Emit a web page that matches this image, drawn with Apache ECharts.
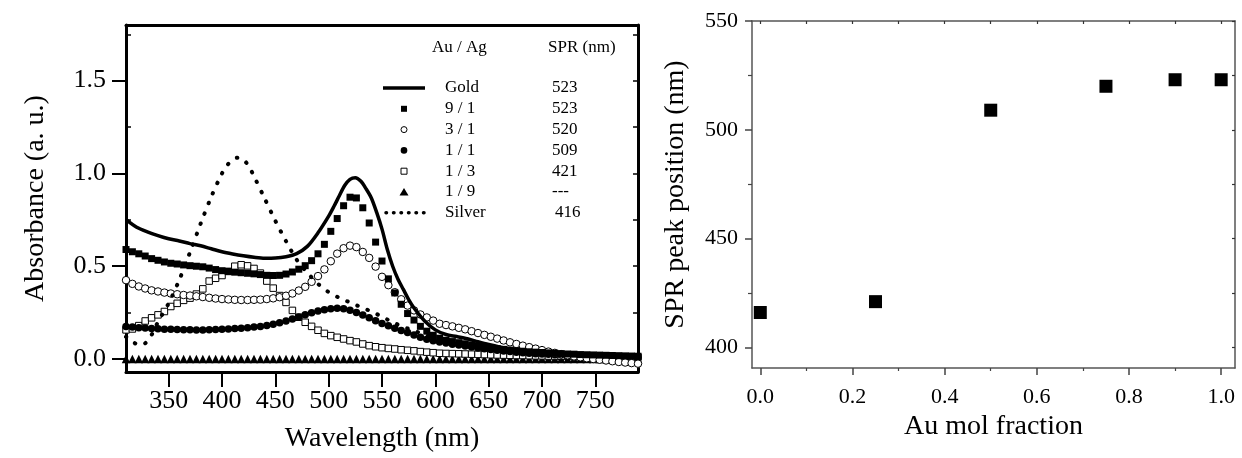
<!DOCTYPE html>
<html>
<head>
<meta charset="utf-8">
<script src="https://cdn.jsdelivr.net/npm/echarts@6.0.0/dist/echarts.min.js"></script>
<style>
  html, body { margin: 0; padding: 0; background: #fff; }
  #chart { width: 1242px; height: 458px; }
</style>
</head>
<body>
<div id="chart"></div>
<script>
// ---- UV-vis spectra of Au/Ag nanoparticles (left panel) ----
// marker series share one wavelength grid (nm)
const gridNm = [
  310, 316, 322, 328, 334, 340, 346, 352, 358, 364,
  370, 376, 382, 388, 394, 400, 406, 412, 418, 424,
  430, 436, 442, 448, 454, 460, 466, 472, 478, 484,
  490, 496, 502, 508, 514, 520, 526, 532, 538, 544,
  550, 556, 562, 568, 574, 580, 586, 592, 598, 604,
  610, 616, 622, 628, 634, 640, 646, 652, 658, 664,
  670, 676, 682, 688, 694, 700, 706, 712, 718, 724,
  730, 736, 742, 748, 754, 760, 766, 772, 778, 784,
  790
];
const abs9to1 = [
  0.590, 0.578, 0.567, 0.555, 0.541, 0.532, 0.523, 0.516, 0.512, 0.507,
  0.503, 0.500, 0.497, 0.490, 0.482, 0.476, 0.472, 0.468, 0.465, 0.462,
  0.459, 0.455, 0.451, 0.450, 0.451, 0.458, 0.469, 0.484, 0.503, 0.530,
  0.567, 0.618, 0.688, 0.757, 0.826, 0.872, 0.868, 0.815, 0.733, 0.630,
  0.528, 0.432, 0.356, 0.295, 0.245, 0.210, 0.176, 0.150, 0.128, 0.112,
  0.101, 0.094, 0.088, 0.082, 0.076, 0.071, 0.065, 0.060, 0.056, 0.052,
  0.048, 0.045, 0.042, 0.039, 0.037, 0.035, 0.033, 0.031, 0.029, 0.027,
  0.026, 0.024, 0.023, 0.022, 0.021, 0.020, 0.019, 0.018, 0.017, 0.016,
  0.015
];
const abs3to1 = [
  0.425, 0.405, 0.391, 0.380, 0.370, 0.364, 0.358, 0.353, 0.349, 0.345,
  0.342, 0.338, 0.334, 0.330, 0.326, 0.323, 0.321, 0.319, 0.318, 0.318,
  0.319, 0.320, 0.323, 0.327, 0.333, 0.341, 0.353, 0.369, 0.389, 0.416,
  0.447, 0.483, 0.527, 0.568, 0.597, 0.611, 0.603, 0.577, 0.545, 0.498,
  0.443, 0.398, 0.360, 0.322, 0.288, 0.262, 0.240, 0.224, 0.207, 0.190,
  0.183, 0.176, 0.168, 0.160, 0.150, 0.140, 0.130, 0.120, 0.110, 0.100,
  0.090, 0.081, 0.072, 0.064, 0.056, 0.048, 0.040, 0.033, 0.026, 0.020,
  0.014, 0.009, 0.004, 0.000, -0.004, -0.008, -0.012, -0.016, -0.019, -0.022,
  -0.025
];
const abs1to1 = [
  0.175, 0.172, 0.169, 0.167, 0.165, 0.163, 0.161, 0.160, 0.159, 0.158,
  0.158, 0.157, 0.157, 0.158, 0.159, 0.160, 0.162, 0.164, 0.166, 0.169,
  0.172, 0.175, 0.181, 0.188, 0.196, 0.205, 0.215, 0.226, 0.238, 0.249,
  0.259, 0.266, 0.271, 0.274, 0.271, 0.263, 0.250, 0.237, 0.222, 0.206,
  0.192, 0.179, 0.166, 0.154, 0.143, 0.130, 0.117, 0.107, 0.099, 0.092,
  0.086, 0.080, 0.075, 0.070, 0.065, 0.060, 0.055, 0.051, 0.047, 0.043,
  0.040, 0.037, 0.034, 0.031, 0.029, 0.027, 0.025, 0.023, 0.022, 0.020,
  0.019, 0.018, 0.017, 0.016, 0.015, 0.014, 0.013, 0.012, 0.011, 0.011,
  0.010
];
const abs1to3 = [
  0.157, 0.162, 0.180, 0.205, 0.222, 0.238, 0.256, 0.283, 0.300, 0.316,
  0.328, 0.350, 0.378, 0.420, 0.435, 0.450, 0.472, 0.500, 0.508, 0.502,
  0.488, 0.463, 0.420, 0.382, 0.342, 0.305, 0.262, 0.225, 0.198, 0.176,
  0.155, 0.138, 0.126, 0.117, 0.108, 0.099, 0.092, 0.081, 0.072, 0.066,
  0.061, 0.057, 0.054, 0.050, 0.047, 0.044, 0.040, 0.037, 0.034, 0.031,
  0.030, 0.029, 0.028, 0.027, 0.026, 0.025, 0.024, 0.023, 0.022, 0.021,
  0.020, 0.019, 0.019, 0.018, 0.017, 0.017, 0.016, 0.016, 0.015, 0.015,
  0.014, 0.014, 0.013, 0.013, 0.012, 0.012, 0.012, 0.011, 0.011, 0.011,
  0.010
];
const abs1to9 = [
  0, 0, 0, 0, 0, 0, 0, 0, 0, 0,
  0, 0, 0, 0, 0, 0, 0, 0, 0, 0,
  0, 0, 0, 0, 0, 0, 0, 0, 0, 0,
  0, 0, 0, 0, 0, 0, 0, 0, 0, 0,
  0, 0, 0, 0, 0, 0, 0, 0, 0, 0,
  0, 0, 0, 0, 0, 0, 0, 0, 0, 0,
  0, 0, 0, 0, 0, 0, 0, 0, 0, 0,
  0, 0, 0, 0, 0, 0, 0, 0, 0, 0,
  0
];

// pure gold (solid line)
const goldNm = [
  310, 320, 330, 340, 350, 360, 370, 380, 390, 400,
  410, 420, 430, 440, 450, 460, 470, 480, 490, 500,
  505, 510, 515, 520, 525, 530, 535, 540, 545, 550,
  555, 560, 565, 570, 575, 580, 590, 600, 610, 620,
  630, 640, 650, 660, 670, 680, 690, 700, 720, 740,
  760, 790
];
const goldAbs = [
  0.751, 0.710, 0.685, 0.665, 0.648, 0.636, 0.622, 0.610, 0.594, 0.578,
  0.566, 0.556, 0.548, 0.543, 0.544, 0.551, 0.568, 0.607, 0.680, 0.770,
  0.823, 0.880, 0.935, 0.968, 0.977, 0.959, 0.918, 0.868, 0.790, 0.700,
  0.590, 0.500, 0.430, 0.375, 0.320, 0.275, 0.205, 0.157, 0.132, 0.121,
  0.109, 0.093, 0.078, 0.065, 0.055, 0.047, 0.040, 0.035, 0.027, 0.020,
  0.015, 0.010
];

// pure silver (dotted line)
const silverNm = [
  310, 316, 322, 328, 334, 340, 350, 360, 370, 380,
  390, 400, 405, 410, 415, 420, 425, 430, 440, 450,
  460, 470, 480, 490, 500, 510, 520, 530, 540, 550,
  560, 570, 580, 590, 600, 620, 640, 660, 680, 700,
  730, 760, 790
];
const silverAbs = [
  0.120, 0.094, 0.076, 0.085, 0.130, 0.200, 0.300, 0.427, 0.575, 0.730,
  0.875, 1.000, 1.045, 1.075, 1.085, 1.075, 1.040, 0.985, 0.865, 0.745,
  0.635, 0.535, 0.465, 0.405, 0.360, 0.330, 0.305, 0.280, 0.256, 0.228,
  0.198, 0.174, 0.152, 0.133, 0.118, 0.090, 0.070, 0.055, 0.043, 0.035,
  0.027, 0.020, 0.015
];

// legend table
const legendLabels = ['Gold', '9 / 1', '3 / 1', '1 / 1', '1 / 3', '1 / 9', 'Silver'];
const legendPeaks = ['523', '523', '520', '509', '421', '---', '416'];

// axis ticks, left panel
const nmTicks = [350, 400, 450, 500, 550, 600, 650, 700, 750];
const absTicks = [0, 0.5, 1.0, 1.5];
const absMinorTicks = [0.25, 0.75, 1.25, 1.75];
const absFrameTicks = [0, 0.25, 0.5, 0.75, 1.0, 1.25, 1.5, 1.75];

// ---- SPR peak position vs Au mole fraction (right panel) ----
const auFraction = [0.0, 0.25, 0.5, 0.75, 0.9, 1.0];
const sprPeak = [416, 421, 509, 520, 523, 523];

const fracTicks = [0.0, 0.2, 0.4, 0.6, 0.8, 1.0];
const fracMinorTicks = [0.1, 0.3, 0.5, 0.7, 0.9];
const fracFrameTicks = [0.0, 0.1, 0.2, 0.3, 0.4, 0.5, 0.6, 0.7, 0.8, 0.9, 1.0];
const peakTicks = [400, 450, 500, 550];
const peakMinorTicks = [425, 475, 525];
const peakFrameTicks = [400, 425, 450, 475, 500, 525, 550];

// ---------------------------------------------------------------
const FONT = "'Liberation Serif', 'Times New Roman', serif";
const pair = (xs, ys) => xs.map((x, i) => [x, ys[i]]);

const LEFT = { min: 310, max: 790, ymin: -0.07, ymax: 1.8 };
const RIGHT = { min: -0.018, max: 1.03, ymin: 390.5, ymax: 550 };

const blackFrame = { color: '#000', width: 3 };
const grayFrame = { color: '#555', width: 1.5 };

function axis(base) {
  return Object.assign({
    type: 'value',
    splitLine: { show: false },
    axisLabel: { show: false },
    axisTick: { show: false },
    axisLine: { show: true, onZero: false },
    silent: true
  }, base);
}

const xAxes = [
  // left panel: bottom (labels + outward ticks)
  axis({
    gridIndex: 0, position: 'bottom', min: LEFT.min, max: LEFT.max,
    axisLine: { show: true, onZero: false, lineStyle: blackFrame },
    axisTick: { show: true, inside: false, length: 15, customValues: nmTicks, lineStyle: { color: '#000', width: 2 } },
    axisLabel: { show: true, customValues: nmTicks, fontFamily: FONT, fontSize: 26, color: '#000', margin: 16 },
    name: 'Wavelength (nm)', nameLocation: 'middle', nameGap: 53,
    nameTextStyle: { fontFamily: FONT, fontSize: 28, color: '#000' }
  }),
  // left panel: top frame
  axis({
    gridIndex: 0, position: 'top', min: LEFT.min, max: LEFT.max,
    axisLine: { show: true, onZero: false, lineStyle: blackFrame }
  }),
  // right panel: bottom (labels + major ticks)
  axis({
    gridIndex: 1, position: 'bottom', min: RIGHT.min, max: RIGHT.max,
    axisLine: { show: true, onZero: false, lineStyle: grayFrame },
    axisTick: { show: true, inside: false, length: 7, customValues: fracTicks, lineStyle: { color: '#444', width: 1.5 } },
    axisLabel: { show: true, customValues: fracTicks, formatter: v => v.toFixed(1), fontFamily: FONT, fontSize: 22, color: '#000', margin: 18 },
    name: 'Au mol fraction', nameLocation: 'middle', nameGap: 41,
    nameTextStyle: { fontFamily: FONT, fontSize: 28, color: '#000' }
  }),
  // right panel: bottom minor ticks
  axis({
    gridIndex: 1, position: 'bottom', min: RIGHT.min, max: RIGHT.max,
    axisLine: { show: false, onZero: false },
    axisTick: { show: true, inside: false, length: 3, customValues: fracMinorTicks, lineStyle: { color: '#444', width: 1.2 } }
  }),
  // right panel: top frame
  axis({
    gridIndex: 1, position: 'top', min: RIGHT.min, max: RIGHT.max,
    axisLine: { show: true, onZero: false, lineStyle: grayFrame },
    axisTick: { show: true, inside: true, length: 3, customValues: fracFrameTicks, lineStyle: { color: '#333', width: 1.2 } }
  })
];

const yAxes = [
  // left panel: labelled axis
  axis({
    gridIndex: 0, position: 'left', min: LEFT.ymin, max: LEFT.ymax,
    axisLine: { show: true, onZero: false, lineStyle: blackFrame },
    axisTick: { show: true, inside: false, length: 14, customValues: absTicks, lineStyle: { color: '#000', width: 2 } },
    axisLabel: { show: true, customValues: absTicks, formatter: v => v.toFixed(1), fontFamily: FONT, fontSize: 26, color: '#000', margin: 20 },
    name: 'Absorbance (a. u.)', nameLocation: 'middle', nameGap: 76,
    nameTextStyle: { fontFamily: FONT, fontSize: 28, color: '#000' }
  }),
  // left panel: inner minor ticks
  axis({
    gridIndex: 0, position: 'left', min: LEFT.ymin, max: LEFT.ymax,
    axisLine: { show: false, onZero: false },
    axisTick: { show: true, inside: true, length: 5, customValues: absMinorTicks, lineStyle: { color: '#000', width: 1.5 } }
  }),
  // left panel: right frame
  axis({
    gridIndex: 0, position: 'right', min: LEFT.ymin, max: LEFT.ymax,
    axisLine: { show: true, onZero: false, lineStyle: blackFrame },
    axisTick: { show: true, inside: true, length: 5, customValues: absFrameTicks, lineStyle: { color: '#000', width: 1.5 } }
  }),
  // right panel: labelled axis
  axis({
    gridIndex: 1, position: 'left', min: RIGHT.ymin, max: RIGHT.ymax,
    axisLine: { show: true, onZero: false, lineStyle: grayFrame },
    axisTick: { show: true, inside: false, length: 7, customValues: peakTicks, lineStyle: { color: '#444', width: 1.5 } },
    axisLabel: { show: true, customValues: peakTicks, fontFamily: FONT, fontSize: 22, color: '#000', margin: 14 },
    name: 'SPR peak position (nm)', nameLocation: 'middle', nameGap: 62,
    nameTextStyle: { fontFamily: FONT, fontSize: 28, color: '#000' }
  }),
  // right panel: minor ticks
  axis({
    gridIndex: 1, position: 'left', min: RIGHT.ymin, max: RIGHT.ymax,
    axisLine: { show: false, onZero: false },
    axisTick: { show: true, inside: false, length: 4, customValues: peakMinorTicks, lineStyle: { color: '#444', width: 1.2 } }
  }),
  // right panel: right frame
  axis({
    gridIndex: 1, position: 'right', min: RIGHT.ymin, max: RIGHT.ymax,
    axisLine: { show: true, onZero: false, lineStyle: grayFrame },
    axisTick: { show: true, inside: true, length: 3, customValues: peakFrameTicks, lineStyle: { color: '#333', width: 1.2 } }
  })
];

function markers(name, values, symbol, size, filled) {
  return {
    name, type: 'scatter', xAxisIndex: 0, yAxisIndex: 0,
    data: pair(gridNm, values),
    symbol, symbolSize: size, silent: true,
    itemStyle: filled
      ? { color: '#000', opacity: 1 }
      : { color: '#fff', borderColor: '#000', borderWidth: 1, opacity: 1 }
  };
}

// legend drawn as a small table inside the left panel
const rowY = i => 88 + i * 20.8;
const textStyle = (text, x, y) => ({
  type: 'text', x, y, silent: true,
  style: { text, fill: '#000', font: `17px ${FONT}`, verticalAlign: 'middle' }
});
const legend = [textStyle('Au / Ag', 432, 48), textStyle('SPR (nm)', 548, 48)];
legendLabels.forEach((lab, i) => {
  legend.push(textStyle(lab, 445, rowY(i)));
  legend.push(textStyle(legendPeaks[i], i === 6 ? 555 : 552, rowY(i)));
});
const sx = 404;
legend.push(
  { type: 'line', silent: true, shape: { x1: 383, y1: rowY(0), x2: 425, y2: rowY(0) }, style: { stroke: '#000', lineWidth: 3.5 } },
  { type: 'rect', silent: true, shape: { x: sx - 3, y: rowY(1) - 3, width: 6, height: 6 }, style: { fill: '#000' } },
  { type: 'circle', silent: true, shape: { cx: sx, cy: rowY(2), r: 3 }, style: { fill: '#fff', stroke: '#000', lineWidth: 1 } },
  { type: 'circle', silent: true, shape: { cx: sx, cy: rowY(3), r: 3.3 }, style: { fill: '#000' } },
  { type: 'rect', silent: true, shape: { x: sx - 3, y: rowY(4) - 3, width: 6, height: 6 }, style: { fill: '#fff', stroke: '#000', lineWidth: 1 } },
  { type: 'polygon', silent: true, shape: { points: [[sx, rowY(5) - 4], [sx - 4.5, rowY(5) + 3.5], [sx + 4.5, rowY(5) + 3.5]] }, style: { fill: '#000' } },
  { type: 'line', silent: true, shape: { x1: 386, y1: rowY(6), x2: 424, y2: rowY(6) }, style: { stroke: '#000', lineWidth: 3.5, lineDash: [0.5, 7], lineCap: 'round' } }
);

const chart = echarts.init(document.getElementById('chart'), null, { renderer: 'canvas' });
chart.setOption({
  backgroundColor: '#fff',
  animation: false,
  grid: [
    { left: 126, top: 25, width: 512, height: 347, outerBoundsMode: 'none', containLabel: false },
    { left: 752, top: 21, width: 483, height: 347, outerBoundsMode: 'none', containLabel: false }
  ],
  xAxis: xAxes,
  yAxis: yAxes,
  series: [
    markers('1 / 9', abs1to9, 'triangle', 8.5, true),
    markers('1 / 3', abs1to3, 'rect', 6.5, false),
    markers('1 / 1', abs1to1, 'circle', 7.5, true),
    markers('3 / 1', abs3to1, 'circle', 7.5, false),
    markers('9 / 1', abs9to1, 'rect', 7, true),
    {
      name: 'Silver', type: 'line', xAxisIndex: 0, yAxisIndex: 0,
      data: pair(silverNm, silverAbs), smooth: 0.3, showSymbol: false, silent: true,
      lineStyle: { color: '#000', width: 4, type: [0.5, 10.5], cap: 'round' }
    },
    {
      name: 'Gold', type: 'line', xAxisIndex: 0, yAxisIndex: 0,
      data: pair(goldNm, goldAbs), smooth: 0.3, showSymbol: false, silent: true,
      lineStyle: { color: '#000', width: 3.5 }
    },
    {
      name: 'SPR', type: 'scatter', xAxisIndex: 2, yAxisIndex: 3,
      data: pair(auFraction, sprPeak), symbol: 'rect', symbolSize: 13, silent: true,
      itemStyle: { color: '#000', opacity: 1 }
    }
  ],
  graphic: legend
});
</script>
</body>
</html>
